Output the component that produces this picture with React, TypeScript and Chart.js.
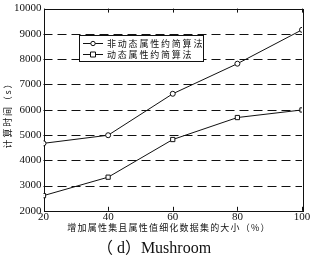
import React, { useEffect, useRef } from "react";
import { Chart, registerables } from "chart.js";

Chart.register(...registerables);

const categories = [20, 40, 60, 80, 100];
const nonDynamic = [4670, 4990, 6630, 7820, 9160];
const dynamic = [2600, 3330, 4820, 5690, 5990];
const seriesNames = ["非动态属性约简算法", "动态属性约简算法"];
const xTitle = "增加属性集且属性值细化数据集的大小（%）";
const yTitle = "计算时间（s）";
const caption = "（ d）Mushroom";
const yTicks = [2000, 3000, 4000, 5000, 6000, 7000, 8000, 9000, 10000];

const SERIF = "'Liberation Serif', 'DejaVu Serif', serif";
const CJK = "'Noto Sans CJK SC', sans-serif";

const framePlugin = {
  id: "frame",
  beforeDatasetsDraw(chart: any) {
    const { ctx, chartArea: a, scales } = chart;
    const y = scales.y;
    const x = scales.x;
    ctx.save();
    ctx.strokeStyle = "#111";
    ctx.lineWidth = 1;
    ctx.setLineDash([9, 5]);
    for (const v of yTicks) {
      if (v === y.min || v === y.max) continue;
      const py = Math.round(y.getPixelForValue(v)) + 0.5;
      ctx.beginPath();
      ctx.moveTo(a.left, py);
      ctx.lineTo(a.right, py);
      ctx.stroke();
    }
    ctx.setLineDash([]);
    ctx.strokeRect(Math.round(a.left) + 0.5, Math.round(a.top) + 0.5, Math.round(a.right - a.left), Math.round(a.bottom - a.top));
    for (const c of categories) {
      const px = Math.round(x.getPixelForValue(c)) + 0.5;
      ctx.beginPath();
      ctx.moveTo(px, a.bottom);
      ctx.lineTo(px, a.bottom - 4);
      ctx.moveTo(px, a.top);
      ctx.lineTo(px, a.top + 4);
      ctx.stroke();
    }
    ctx.restore();
  },
  afterDraw(chart: any) {
    const { ctx } = chart;
    ctx.save();
    // legend box
    const lx = 79, ly = 35, lw = 124, lh = 26;
    ctx.fillStyle = "#fff";
    ctx.fillRect(lx, ly, lw, lh);
    ctx.strokeStyle = "#111";
    ctx.lineWidth = 1;
    ctx.strokeRect(lx + 0.5, ly + 0.5, lw, lh);
    const rows = [ly + 8, ly + 19];
    rows.forEach((ry, i) => {
      ctx.beginPath();
      ctx.moveTo(lx + 4, ry + 0.5);
      ctx.lineTo(lx + 24, ry + 0.5);
      ctx.stroke();
      const mx = lx + 14;
      ctx.fillStyle = "#fff";
      ctx.beginPath();
      if (i === 0) {
        ctx.arc(mx, ry + 0.5, 2.2, 0, Math.PI * 2);
      } else {
        ctx.rect(mx - 2.5, ry - 2, 5, 5);
      }
      ctx.fill();
      ctx.stroke();
      ctx.fillStyle = "#111";
      ctx.font = `9px ${CJK}`;
      (ctx as any).letterSpacing = "1.8px";
      ctx.textBaseline = "middle";
      ctx.textAlign = "left";
      ctx.fillText(seriesNames[i], lx + 28, ry + 1);
    });

    // x title
    ctx.fillStyle = "#111";
    ctx.font = `9px ${CJK}`;
    (ctx as any).letterSpacing = "1.2px";
    ctx.textAlign = "center";
    ctx.textBaseline = "middle";
    ctx.fillText(xTitle, 169, 228);

    // y title
    ctx.save();
    ctx.translate(8, 113);
    ctx.rotate(-Math.PI / 2);
    (ctx as any).letterSpacing = "1.8px";
    ctx.fillText(yTitle, 0, 0);
    ctx.restore();

    // caption
    (ctx as any).letterSpacing = "0px";
    ctx.font = `16px ${SERIF}, 'Noto Sans CJK SC'`;
    ctx.textAlign = "center";
    ctx.fillText(caption, 154, 249);
    ctx.restore();
  },
};

export default function App() {
  const ref = useRef<HTMLCanvasElement>(null);
  useEffect(() => {
    document.body.style.margin = "0";
    const chart = new Chart(ref.current!, {
      type: "line",
      data: {
        datasets: [
          {
            label: seriesNames[0],
            data: categories.map((c, i) => ({ x: c, y: nonDynamic[i] })),
            borderColor: "#111",
            borderWidth: 1,
            pointStyle: "circle",
            pointRadius: 2.5,
            pointBackgroundColor: "#fff",
            pointBorderColor: "#111",
            pointBorderWidth: 1,
          },
          {
            label: seriesNames[1],
            data: categories.map((c, i) => ({ x: c, y: dynamic[i] })),
            borderColor: "#111",
            borderWidth: 1,
            pointStyle: "rect",
            pointRadius: 3,
            pointBackgroundColor: "#fff",
            pointBorderColor: "#111",
            pointBorderWidth: 1,
          },
        ],
      },
      options: {
        animation: false,
        responsive: false,
        layout: { padding: { left: 12, right: 23, top: 8, bottom: 38 } },
        plugins: { legend: { display: false }, tooltip: { enabled: false } },
        scales: {
          x: {
            type: "linear",
            min: 20,
            max: 100,
            grid: { display: false, drawTicks: false },
            border: { display: false },
            afterBuildTicks: (s: any) => {
              s.ticks = categories.map((v) => ({ value: v }));
            },
            ticks: { color: "#111", font: { family: SERIF, size: 11 }, padding: 0, callback: (v: any) => String(v) },
          },
          y: {
            min: 2000,
            max: 10000,
            grid: { display: false, drawTicks: false },
            border: { display: false },
            afterBuildTicks: (s: any) => {
              s.ticks = yTicks.map((v) => ({ value: v }));
            },
            ticks: { color: "#111", font: { family: SERIF, size: 11 }, padding: 2, callback: (v: any) => String(v) },
          },
        },
      },
      plugins: [framePlugin],
    });
    return () => chart.destroy();
  }, []);
  return <canvas ref={ref} width={325} height={262} style={{ display: "block" }} />;
}
